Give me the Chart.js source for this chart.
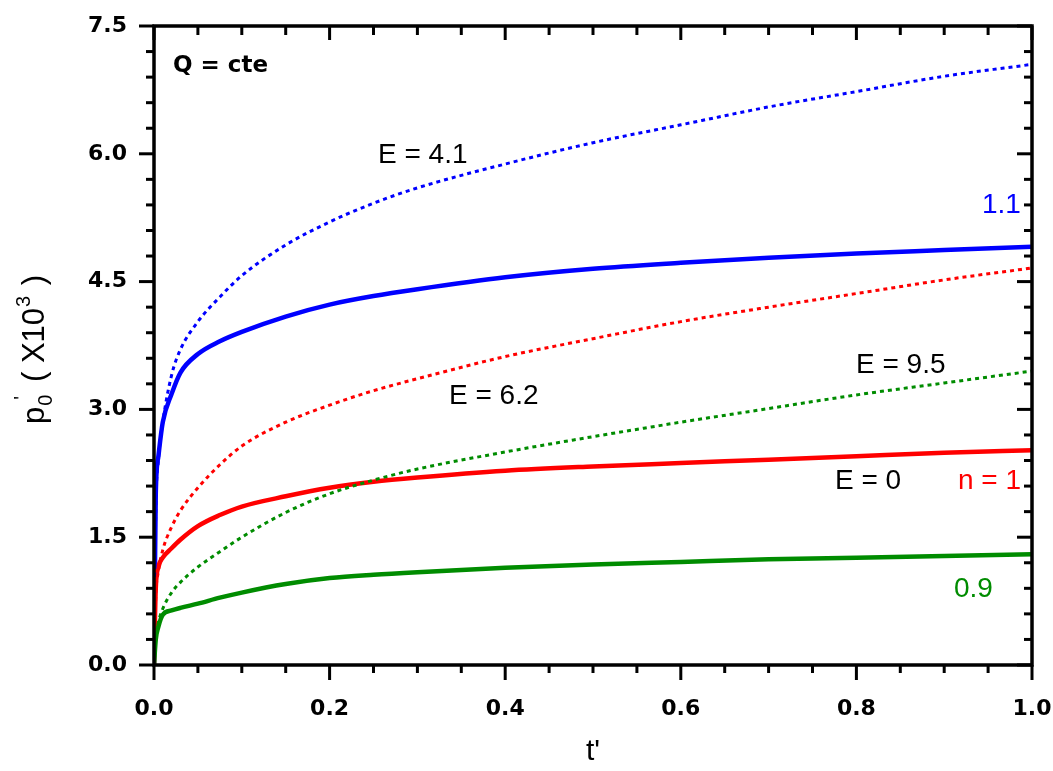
<!DOCTYPE html>
<html>
<head>
<meta charset="utf-8">
<script src="https://cdn.jsdelivr.net/npm/chart.js@4"></script>
<style>
  html, body { margin: 0; padding: 0; background: #fff; }
  #wrap { width: 1053px; height: 771px; }
</style>
</head>
<body>
<div id="wrap"><canvas id="chart"></canvas></div>
<script>
// dimensionless time t'
const tValues = [0, 0.002, 0.005, 0.01, 0.02, 0.03, 0.05, 0.075, 0.1, 0.15, 0.2, 0.25, 0.3, 0.4, 0.5, 0.6, 0.7, 0.8, 0.9, 1.0]

// p0' (x10^3), Q = cte
const n11E0   = [0, 2.0, 2.45, 2.85, 3.18, 3.43, 3.65, 3.80, 3.91, 4.09, 4.23, 4.33, 4.41, 4.55, 4.65, 4.72, 4.78, 4.83, 4.87, 4.91]
const n11E41  = [0, 1.8, 2.4, 2.85, 3.4, 3.70, 4.03, 4.32, 4.57, 4.93, 5.20, 5.42, 5.60, 5.88, 6.13, 6.34, 6.55, 6.73, 6.91, 7.05]
const n1E0    = [0, 0.9, 1.15, 1.26, 1.37, 1.47, 1.63, 1.76, 1.86, 1.98, 2.08, 2.15, 2.20, 2.28, 2.33, 2.37, 2.41, 2.45, 2.49, 2.52]
const n1E62   = [0, 0.8, 1.1, 1.35, 1.62, 1.81, 2.08, 2.35, 2.57, 2.85, 3.05, 3.22, 3.36, 3.62, 3.83, 4.03, 4.20, 4.36, 4.52, 4.66]
const n09E0   = [0, 0.3, 0.45, 0.59, 0.64, 0.67, 0.72, 0.79, 0.85, 0.95, 1.02, 1.06, 1.09, 1.14, 1.18, 1.21, 1.24, 1.26, 1.28, 1.30]
const n09E95  = [0, 0.3, 0.5, 0.66, 0.85, 0.97, 1.15, 1.33, 1.50, 1.79, 2.01, 2.17, 2.30, 2.50, 2.68, 2.85, 3.01, 3.17, 3.31, 3.45]

const xTicks = [0, 0.2, 0.4, 0.6, 0.8, 1.0]
const yTicks = [0, 1.5, 3.0, 4.5, 6.0, 7.5]

const BLUE = "#0000ff"
const RED = "#ff0000"
const GREEN = "#008c00"

const toPoints = (ys) => ys.map((y, i) => ({ x: tValues[i], y: y }))

const series = (data, color, dotted) => ({
  data: toPoints(data),
  borderColor: color,
  borderWidth: dotted ? 3 : 4.5,
  borderDash: dotted ? [4, 4] : [],
  pointRadius: 0,
  cubicInterpolationMode: "monotone",
  fill: false
})

// labels may overflow the plot, so keep the plot box where it belongs
const noOverflow = (s) => {
  s.paddingLeft = 0
  s.paddingRight = 0
  s.paddingTop = 0
  s.paddingBottom = 0
}

// box, tick marks, notes and axis titles
const frame = {
  id: "frame",
  afterDraw(chart) {
    const ctx = chart.ctx
    const a = chart.chartArea
    const xs = chart.scales.x
    const ys = chart.scales.y
    ctx.save()
    ctx.strokeStyle = "#000"
    ctx.lineWidth = 3
    ctx.lineCap = "butt"

    const tick = (x1, y1, x2, y2) => {
      ctx.beginPath()
      ctx.moveTo(x1, y1)
      ctx.lineTo(x2, y2)
      ctx.stroke()
    }
    for (let k = 0; k <= 20; k++) {
      const px = xs.getPixelForValue(k * 0.05)
      const major = k % 4 === 0
      tick(px, a.bottom, px, a.bottom + (major ? 15 : 8))
      tick(px, a.top, px, a.top + (major ? 14 : 9))
    }
    for (let k = 0; k <= 25; k++) {
      const py = ys.getPixelForValue(k * 0.3)
      const major = k % 5 === 0
      tick(a.left, py, a.left - (major ? 15 : 8), py)
      tick(a.right, py, a.right - (major ? 15 : 8), py)
    }
    ctx.lineWidth = 3.5
    ctx.strokeRect(a.left, a.top, a.right - a.left, a.bottom - a.top)

    // notes
    ctx.textAlign = "left"
    ctx.textBaseline = "alphabetic"
    ctx.fillStyle = "#000"
    ctx.font = "bold 23px 'DejaVu Sans'"
    ctx.fillText("Q = cte", 173, 72)
    ctx.font = "28px 'Liberation Sans', Arial"
    ctx.fillText("E = 4.1", 378, 163)
    ctx.fillText("E = 6.2", 449, 404)
    ctx.fillText("E = 9.5", 856, 373)
    ctx.fillText("E = 0", 835, 489)
    ctx.fillStyle = RED
    ctx.fillText("n = 1", 958, 489)
    ctx.fillStyle = BLUE
    ctx.fillText("1.1", 982, 213)
    ctx.fillStyle = GREEN
    ctx.fillText("0.9", 954, 597)

    // x title
    ctx.fillStyle = "#000"
    ctx.textAlign = "center"
    ctx.font = "30px 'Liberation Sans', Arial"
    ctx.fillText("t'", (a.left + a.right) / 2, 760)

    // y title with sub/superscripts
    ctx.translate(44, 424)
    ctx.rotate(-Math.PI / 2)
    ctx.textAlign = "left"
    const big = "31px 'Liberation Sans', Arial"
    const small = "20px 'Liberation Sans', Arial"
    let x = 0
    ctx.font = big
    ctx.fillText("p", x, 0)
    x += ctx.measureText("p").width
    ctx.font = small
    ctx.fillText("0", x + 1, 8)
    ctx.fillText("'", x + 7, -16)
    x += ctx.measureText("0").width + 5
    ctx.font = big
    ctx.fillText(" ( X10", x, 0)
    x += ctx.measureText(" ( X10").width
    ctx.font = small
    ctx.fillText("3", x + 1, -14)
    x += ctx.measureText("3").width + 3
    ctx.font = big
    ctx.fillText(" )", x, 0)
    ctx.restore()
  }
}

new Chart(document.getElementById("chart"), {
  type: "line",
  data: {
    datasets: [
      series(n09E95, GREEN, true),
      series(n1E62, RED, true),
      series(n11E41, BLUE, true),
      series(n09E0, GREEN, false),
      series(n1E0, RED, false),
      series(n11E0, BLUE, false)
    ]
  },
  options: {
    responsive: true,
    maintainAspectRatio: false,
    animation: false,
    layout: { padding: { top: 26, right: 21, left: 0, bottom: 0 } },
    plugins: {
      legend: { display: false },
      tooltip: { enabled: false }
    },
    scales: {
      x: {
        type: "linear",
        min: 0,
        max: 1,
        grid: { display: false, drawTicks: false },
        border: { display: false },
        afterFit: (s) => { s.height = 106; noOverflow(s) },
        afterBuildTicks: (s) => { s.ticks = xTicks.map(v => ({ value: v })) },
        ticks: {
          padding: 31,
          maxRotation: 0,
          autoSkip: false,
          color: "#000",
          font: { family: "'DejaVu Sans'", weight: "bold", size: 22 },
          callback: (v) => Number(v).toFixed(1)
        }
      },
      y: {
        type: "linear",
        min: 0,
        max: 7.5,
        grid: { display: false, drawTicks: false },
        border: { display: false },
        afterFit: (s) => { s.width = 154; noOverflow(s) },
        afterBuildTicks: (s) => { s.ticks = yTicks.map(v => ({ value: v })) },
        ticks: {
          padding: 27,
          autoSkip: false,
          color: "#000",
          font: { family: "'DejaVu Sans'", weight: "bold", size: 22 },
          callback: (v) => Number(v).toFixed(1)
        }
      }
    }
  },
  plugins: [frame]
})
</script>
</body>
</html>
